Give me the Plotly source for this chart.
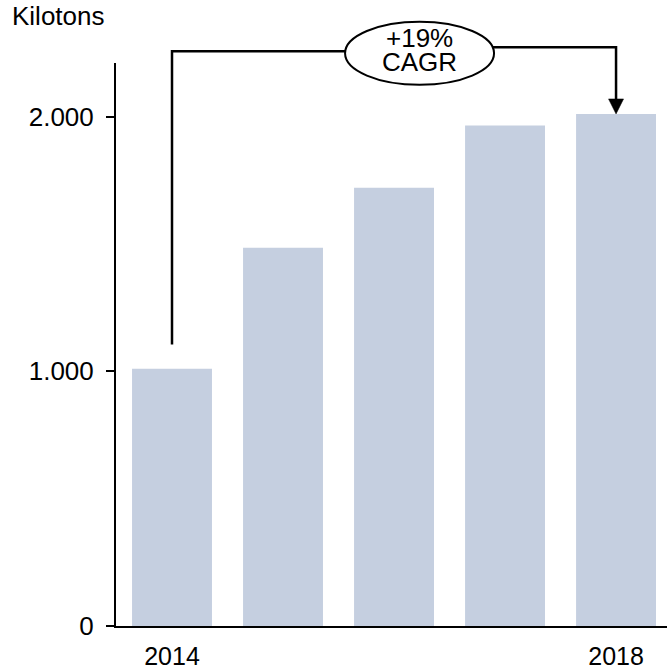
import plotly.graph_objects as go

# Annual volume, kilotons
years = ["2014", "2015", "2016", "2017", "2018"]
volumes = [1010, 1485, 1720, 1965, 2010]
labelled_years = ["2014", "2018"]
y_ticks = [0, 1000, 2000]
cagr_lines = ["+19%", "CAGR"]
unit_label = "Kilotons"

BAR_COLOR = "#C5CFE0"
FONT = "Liberation Sans, Arial, sans-serif"

# axis ranges (category index on x)
X0, X1 = -0.5045, 4.459
YMAX = 2210


def xp(v):
    return (v - X0) / (X1 - X0)


def yp(v):
    return v / YMAX


fig = go.Figure(
    go.Bar(
        x=years,
        y=volumes,
        width=0.72,
        marker=dict(color=BAR_COLOR, line=dict(width=0)),
        hoverinfo="skip",
    )
)

# CAGR bracket: from above the first bar, over the top, down to the last bar
first_i, last_i = 0, len(years) - 1
left_top = 2256
right_top = 2272
bracket_bottom = volumes[first_i] + 95
ellipse_cx = 2.23
ellipse_cy = 2248
line = dict(color="black", width=2.5)

shapes = [
    # left leg
    dict(type="path", xref="paper", yref="paper", layer="above",
         path=f"M {xp(first_i)},{yp(bracket_bottom)} L {xp(first_i)},{yp(left_top)} "
              f"L {xp(ellipse_cx)},{yp(left_top)}",
         line=line),
    # right leg towards arrow head
    dict(type="path", xref="paper", yref="paper", layer="above",
         path=f"M {xp(ellipse_cx)},{yp(right_top)} L {xp(last_i)},{yp(right_top)} "
              f"L {xp(last_i)},{yp(volumes[last_i] + 55)}",
         line=line),
    # arrow head
    dict(type="path", xref="paper", yref="paper", layer="above",
         xsizemode="pixel", ysizemode="pixel",
         xanchor=xp(last_i), yanchor=yp(volumes[last_i]),
         path="M -7.5,15 L 7.5,15 L 0,0 Z",
         fillcolor="black", line=dict(color="black", width=0.5)),
    # ellipse around the CAGR label
    dict(type="circle", xref="paper", yref="paper", layer="above",
         xsizemode="pixel", ysizemode="pixel",
         xanchor=xp(ellipse_cx), yanchor=yp(ellipse_cy),
         x0=-74.5, x1=74.5, y0=-31.5, y1=31.5,
         fillcolor="white", line=dict(color="black", width=2)),
]

# two tightly spaced label lines inside the ellipse
annotations = [
    dict(xref="paper", yref="paper", x=xp(ellipse_cx), y=1.0,
         text=txt, showarrow=False, xanchor="center", yanchor="middle",
         font=dict(family=FONT, size=26, color="black"), yshift=shift)
    for txt, shift in zip(cagr_lines, [25.5, 1.0])
]
annotations.append(
    dict(xref="paper", yref="paper", x=(10 - 116) / 551, y=1.0,
         text=unit_label, showarrow=False, xanchor="left", yanchor="middle",
         yshift=47, font=dict(family=FONT, size=26, color="black"))
)

fig.update_layout(
    width=669,
    height=672,
    margin=dict(l=116, r=2, t=63, b=46),
    paper_bgcolor="white",
    plot_bgcolor="white",
    showlegend=False,
    separators=",.",
    font=dict(family=FONT, size=26, color="black"),
    shapes=shapes,
    annotations=annotations,
    xaxis=dict(
        type="category",
        range=[X0, X1],
        tickmode="array",
        tickvals=labelled_years,
        ticks="",
        showgrid=False,
        zeroline=False,
        showline=True,
        linecolor="black",
        linewidth=2,
        ticklabelstandoff=7,
        tickfont=dict(family=FONT, size=25, color="black"),
        automargin=False,
        fixedrange=True,
    ),
    yaxis=dict(
        range=[0, YMAX],
        tickmode="array",
        tickvals=y_ticks,
        tickformat=",d",
        ticks="outside",
        ticklen=8,
        tickwidth=2,
        tickcolor="black",
        showgrid=False,
        zeroline=False,
        showline=True,
        linecolor="black",
        linewidth=2,
        ticklabelstandoff=7,
        tickfont=dict(family=FONT, size=26, color="black"),
        automargin=False,
        fixedrange=True,
    ),
)

fig.write_html("out.html", config={"displayModeBar": False})
